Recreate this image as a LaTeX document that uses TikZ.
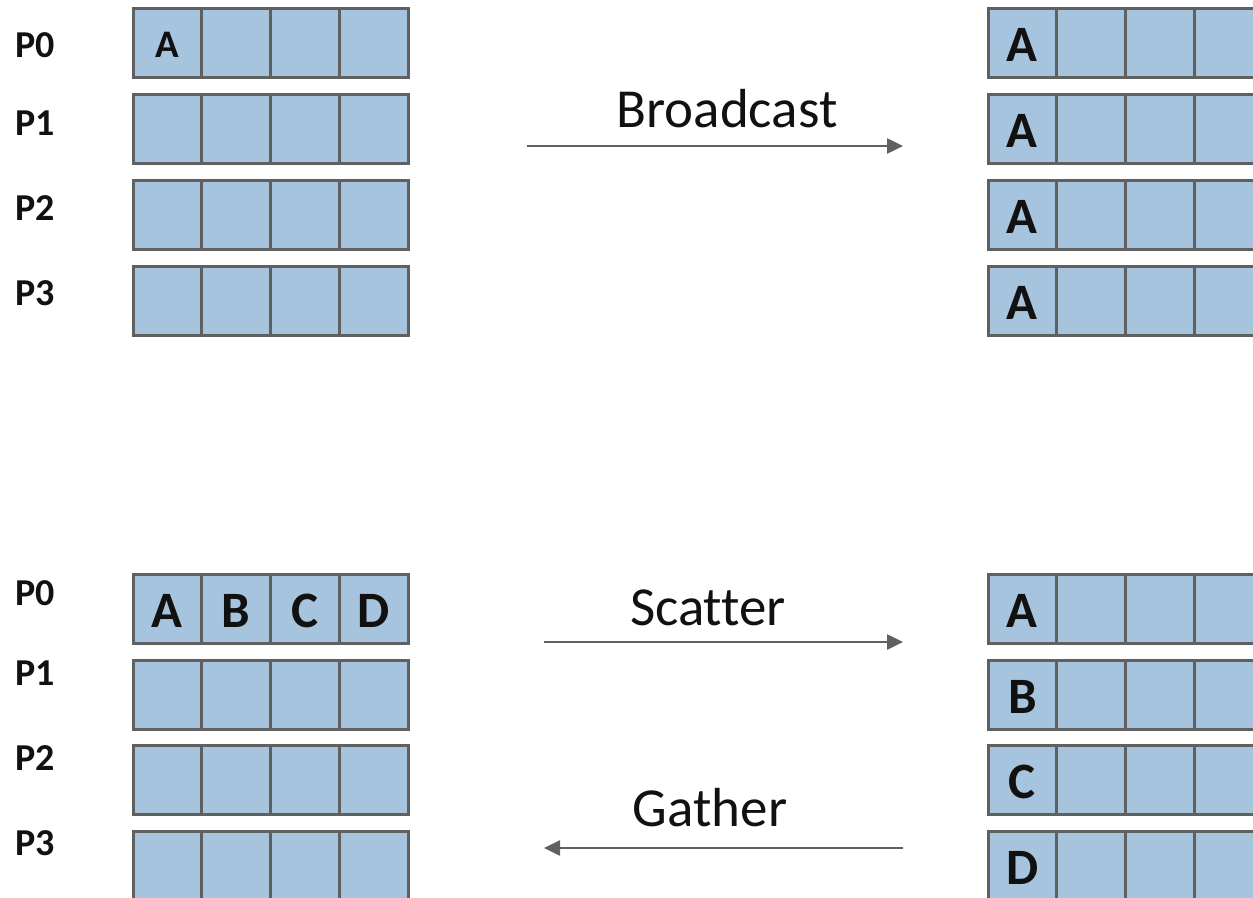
\documentclass[tikz,border=0pt]{standalone}
\usepackage{fontspec}
\setmainfont[Ligatures=NoCommon]{Carlito}
\usetikzlibrary{arrows.meta}
\definecolor{cellblue}{HTML}{A7C4DF}
\definecolor{edgegray}{HTML}{606060}
\definecolor{ink}{HTML}{111111}
\begin{document}
\begin{tikzpicture}[x=1pt,y=-1pt,
  cell/.style={draw=edgegray,fill=cellblue,line width=3pt,minimum width=68.75pt,
    minimum height=69pt,inner sep=0pt,outer sep=0pt,anchor=north west},
  bigletter/.style={inner sep=0pt,text=ink,yshift=-2pt,font=\bfseries\fontsize{51}{51}\selectfont},
  smallletter/.style={inner sep=0pt,text=ink,yshift=-2pt,font=\bfseries\fontsize{39}{39}\selectfont},
  plabel/.style={anchor=base west,inner sep=0pt,text=ink,font=\bfseries\fontsize{38}{38}\selectfont},
  opname/.style={anchor=base,inner sep=0pt,text=ink,font=\fontsize{55}{55}\selectfont},
  flow/.style={draw=edgegray,line width=2.5pt,-{Triangle[length=16pt,width=15pt]}}]
\useasboundingbox (0,0) rectangle (1253,897);
\clip (0,0) rectangle (1253,897);

% ---- Broadcast: buffers before and after ----
\foreach \r/\y in {0/8,1/94,2/180,3/266}{
  \foreach \c in {0,...,3}{
    \node[cell] (bl-\r-\c) at ({133+68.75*\c},\y) {};
    \node[cell] (br-\r-\c) at ({988+68.75*\c},\y) {};
  }
}
\node[smallletter] (bl-a) at (bl-0-0) {A};
\foreach \r in {0,...,3}{
  \node[bigletter] (br-a-\r) at (br-\r-0) {A};
}

% ---- Scatter / Gather: buffers on both sides ----
\foreach \r/\y in {0/574,1/660,2/745,3/831}{
  \foreach \c in {0,...,3}{
    \node[cell] (sl-\r-\c) at ({133+68.75*\c},\y) {};
    \node[cell] (sr-\r-\c) at ({988+68.75*\c},\y) {};
  }
}
\foreach \l [count=\i from 0] in {A,B,C,D}{
  \node[bigletter] (sl-t-\i) at (sl-0-\i) {\l};
  \node[bigletter] (sr-t-\i) at (sr-\i-0) {\l};
}

% ---- process labels ----
\node[plabel] (tp0) at (15,57) {P0};
\node[plabel] (tp1) at (15,135) {P1};
\node[plabel] (tp2) at (15,220) {P2};
\node[plabel] (tp3) at (15,305) {P3};
\node[plabel] (bp0) at (15,605) {P0};
\node[plabel] (bp1) at (15,685) {P1};
\node[plabel] (bp2) at (15,770) {P2};
\node[plabel] (bp3) at (15,855) {P3};

% ---- operations ----
\node[opname] (bcast) at (727,127) {Broadcast};
\node[opname] (scat) at (708,625) {Scatter};
\node[opname] (gath) at (710,826) {Gather};

\coordinate (bcast-from) at (527,146);
\coordinate (bcast-to) at (903,146);
\coordinate (scat-from) at (544,642);
\coordinate (scat-to) at (903,642);
\coordinate (gath-from) at (903,848);
\coordinate (gath-to) at (544,848);

\draw[flow] (bcast-from) -- (bcast-to);
\draw[flow] (scat-from) -- (scat-to);
\draw[flow] (gath-from) -- (gath-to);
\end{tikzpicture}
\end{document}
